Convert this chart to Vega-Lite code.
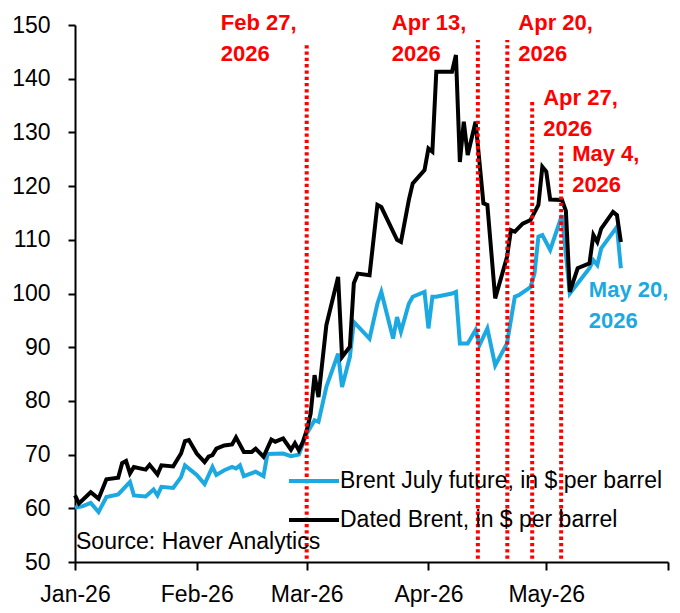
{
  "$schema": "https://vega.github.io/schema/vega-lite/v6.json",
  "width": 593,
  "height": 537,
  "autosize": {"type": "none"},
  "padding": {"left": 75, "top": 25, "right": 12, "bottom": 51},
  "config": {
    "view": {"stroke": null},
    "font": "Liberation Sans",
    "axis": {
      "labelFont": "Liberation Sans",
      "labelFontSize": 23,
      "labelColor": "#000000",
      "domainColor": "#000000",
      "domainWidth": 2,
      "tickColor": "#000000",
      "tickWidth": 2,
      "grid": false,
      "title": null
    }
  },
  "datasets": {
    "prices": [
      {"date": "2026/01/01", "series": "Brent July future, in $ per barrel", "price": 60.1},
      {"date": "2026/01/03", "series": "Brent July future, in $ per barrel", "price": 60.4},
      {"date": "2026/01/05", "series": "Brent July future, in $ per barrel", "price": 61.0},
      {"date": "2026/01/07", "series": "Brent July future, in $ per barrel", "price": 59.3},
      {"date": "2026/01/09", "series": "Brent July future, in $ per barrel", "price": 62.1},
      {"date": "2026/01/12", "series": "Brent July future, in $ per barrel", "price": 62.6},
      {"date": "2026/01/15", "series": "Brent July future, in $ per barrel", "price": 64.9},
      {"date": "2026/01/16", "series": "Brent July future, in $ per barrel", "price": 62.4},
      {"date": "2026/01/19", "series": "Brent July future, in $ per barrel", "price": 62.2},
      {"date": "2026/01/21", "series": "Brent July future, in $ per barrel", "price": 63.5},
      {"date": "2026/01/22", "series": "Brent July future, in $ per barrel", "price": 62.4},
      {"date": "2026/01/23", "series": "Brent July future, in $ per barrel", "price": 64.0},
      {"date": "2026/01/26", "series": "Brent July future, in $ per barrel", "price": 63.8},
      {"date": "2026/01/28", "series": "Brent July future, in $ per barrel", "price": 65.8},
      {"date": "2026/01/29", "series": "Brent July future, in $ per barrel", "price": 68.0},
      {"date": "2026/02/01", "series": "Brent July future, in $ per barrel", "price": 66.2},
      {"date": "2026/02/03", "series": "Brent July future, in $ per barrel", "price": 64.5},
      {"date": "2026/02/05", "series": "Brent July future, in $ per barrel", "price": 67.7},
      {"date": "2026/02/06", "series": "Brent July future, in $ per barrel", "price": 66.2},
      {"date": "2026/02/08", "series": "Brent July future, in $ per barrel", "price": 67.1},
      {"date": "2026/02/10", "series": "Brent July future, in $ per barrel", "price": 67.7},
      {"date": "2026/02/11", "series": "Brent July future, in $ per barrel", "price": 67.4},
      {"date": "2026/02/12", "series": "Brent July future, in $ per barrel", "price": 68.0},
      {"date": "2026/02/13", "series": "Brent July future, in $ per barrel", "price": 66.0},
      {"date": "2026/02/16", "series": "Brent July future, in $ per barrel", "price": 66.8},
      {"date": "2026/02/18", "series": "Brent July future, in $ per barrel", "price": 66.0},
      {"date": "2026/02/19", "series": "Brent July future, in $ per barrel", "price": 70.1},
      {"date": "2026/02/23", "series": "Brent July future, in $ per barrel", "price": 70.2},
      {"date": "2026/02/25", "series": "Brent July future, in $ per barrel", "price": 69.7},
      {"date": "2026/02/27", "series": "Brent July future, in $ per barrel", "price": 70.0},
      {"date": "2026/03/01", "series": "Brent July future, in $ per barrel", "price": 73.9},
      {"date": "2026/03/03", "series": "Brent July future, in $ per barrel", "price": 76.4},
      {"date": "2026/03/04", "series": "Brent July future, in $ per barrel", "price": 76.1},
      {"date": "2026/03/06", "series": "Brent July future, in $ per barrel", "price": 82.6},
      {"date": "2026/03/09", "series": "Brent July future, in $ per barrel", "price": 88.8},
      {"date": "2026/03/10", "series": "Brent July future, in $ per barrel", "price": 82.6},
      {"date": "2026/03/12", "series": "Brent July future, in $ per barrel", "price": 88.2},
      {"date": "2026/03/13", "series": "Brent July future, in $ per barrel", "price": 94.7},
      {"date": "2026/03/17", "series": "Brent July future, in $ per barrel", "price": 91.6},
      {"date": "2026/03/19", "series": "Brent July future, in $ per barrel", "price": 98.1},
      {"date": "2026/03/20", "series": "Brent July future, in $ per barrel", "price": 100.3},
      {"date": "2026/03/23", "series": "Brent July future, in $ per barrel", "price": 91.6},
      {"date": "2026/03/24", "series": "Brent July future, in $ per barrel", "price": 95.6},
      {"date": "2026/03/25", "series": "Brent July future, in $ per barrel", "price": 92.9},
      {"date": "2026/03/27", "series": "Brent July future, in $ per barrel", "price": 98.1},
      {"date": "2026/03/28", "series": "Brent July future, in $ per barrel", "price": 99.4},
      {"date": "2026/03/31", "series": "Brent July future, in $ per barrel", "price": 100.3},
      {"date": "2026/04/01", "series": "Brent July future, in $ per barrel", "price": 93.5},
      {"date": "2026/04/02", "series": "Brent July future, in $ per barrel", "price": 99.4},
      {"date": "2026/04/03", "series": "Brent July future, in $ per barrel", "price": 99.4},
      {"date": "2026/04/07", "series": "Brent July future, in $ per barrel", "price": 100.0},
      {"date": "2026/04/08", "series": "Brent July future, in $ per barrel", "price": 100.3},
      {"date": "2026/04/09", "series": "Brent July future, in $ per barrel", "price": 90.7},
      {"date": "2026/04/11", "series": "Brent July future, in $ per barrel", "price": 90.7},
      {"date": "2026/04/13", "series": "Brent July future, in $ per barrel", "price": 93.2},
      {"date": "2026/04/14", "series": "Brent July future, in $ per barrel", "price": 90.4},
      {"date": "2026/04/16", "series": "Brent July future, in $ per barrel", "price": 93.5},
      {"date": "2026/04/18", "series": "Brent July future, in $ per barrel", "price": 86.6},
      {"date": "2026/04/21", "series": "Brent July future, in $ per barrel", "price": 90.7},
      {"date": "2026/04/23", "series": "Brent July future, in $ per barrel", "price": 99.4},
      {"date": "2026/04/24", "series": "Brent July future, in $ per barrel", "price": 99.7},
      {"date": "2026/04/27", "series": "Brent July future, in $ per barrel", "price": 101.2},
      {"date": "2026/04/28", "series": "Brent July future, in $ per barrel", "price": 103.7},
      {"date": "2026/04/29", "series": "Brent July future, in $ per barrel", "price": 110.6},
      {"date": "2026/04/30", "series": "Brent July future, in $ per barrel", "price": 110.9},
      {"date": "2026/05/02", "series": "Brent July future, in $ per barrel", "price": 108.1},
      {"date": "2026/05/05", "series": "Brent July future, in $ per barrel", "price": 114.6},
      {"date": "2026/05/07", "series": "Brent July future, in $ per barrel", "price": 100.0},
      {"date": "2026/05/12", "series": "Brent July future, in $ per barrel", "price": 104.7},
      {"date": "2026/05/13", "series": "Brent July future, in $ per barrel", "price": 106.2},
      {"date": "2026/05/14", "series": "Brent July future, in $ per barrel", "price": 105.3},
      {"date": "2026/05/15", "series": "Brent July future, in $ per barrel", "price": 108.4},
      {"date": "2026/05/19", "series": "Brent July future, in $ per barrel", "price": 112.4},
      {"date": "2026/05/20", "series": "Brent July future, in $ per barrel", "price": 104.7},
      {"date": "2026/01/01", "series": "Dated Brent, in $ per barrel", "price": 62.4},
      {"date": "2026/01/02", "series": "Dated Brent, in $ per barrel", "price": 60.9},
      {"date": "2026/01/05", "series": "Dated Brent, in $ per barrel", "price": 63.0},
      {"date": "2026/01/07", "series": "Dated Brent, in $ per barrel", "price": 61.8},
      {"date": "2026/01/09", "series": "Dated Brent, in $ per barrel", "price": 65.4},
      {"date": "2026/01/12", "series": "Dated Brent, in $ per barrel", "price": 65.7},
      {"date": "2026/01/13", "series": "Dated Brent, in $ per barrel", "price": 68.4},
      {"date": "2026/01/14", "series": "Dated Brent, in $ per barrel", "price": 68.8},
      {"date": "2026/01/15", "series": "Dated Brent, in $ per barrel", "price": 66.5},
      {"date": "2026/01/16", "series": "Dated Brent, in $ per barrel", "price": 67.7},
      {"date": "2026/01/19", "series": "Dated Brent, in $ per barrel", "price": 67.2},
      {"date": "2026/01/20", "series": "Dated Brent, in $ per barrel", "price": 68.1},
      {"date": "2026/01/22", "series": "Dated Brent, in $ per barrel", "price": 66.3},
      {"date": "2026/01/23", "series": "Dated Brent, in $ per barrel", "price": 68.0},
      {"date": "2026/01/26", "series": "Dated Brent, in $ per barrel", "price": 67.8},
      {"date": "2026/01/28", "series": "Dated Brent, in $ per barrel", "price": 70.2},
      {"date": "2026/01/29", "series": "Dated Brent, in $ per barrel", "price": 72.5},
      {"date": "2026/01/30", "series": "Dated Brent, in $ per barrel", "price": 72.7},
      {"date": "2026/02/01", "series": "Dated Brent, in $ per barrel", "price": 70.2},
      {"date": "2026/02/03", "series": "Dated Brent, in $ per barrel", "price": 68.6},
      {"date": "2026/02/04", "series": "Dated Brent, in $ per barrel", "price": 69.6},
      {"date": "2026/02/05", "series": "Dated Brent, in $ per barrel", "price": 69.9},
      {"date": "2026/02/06", "series": "Dated Brent, in $ per barrel", "price": 71.1},
      {"date": "2026/02/08", "series": "Dated Brent, in $ per barrel", "price": 71.7},
      {"date": "2026/02/10", "series": "Dated Brent, in $ per barrel", "price": 71.9},
      {"date": "2026/02/11", "series": "Dated Brent, in $ per barrel", "price": 73.2},
      {"date": "2026/02/13", "series": "Dated Brent, in $ per barrel", "price": 70.5},
      {"date": "2026/02/15", "series": "Dated Brent, in $ per barrel", "price": 70.5},
      {"date": "2026/02/16", "series": "Dated Brent, in $ per barrel", "price": 71.1},
      {"date": "2026/02/18", "series": "Dated Brent, in $ per barrel", "price": 69.6},
      {"date": "2026/02/20", "series": "Dated Brent, in $ per barrel", "price": 72.8},
      {"date": "2026/02/21", "series": "Dated Brent, in $ per barrel", "price": 72.4},
      {"date": "2026/02/23", "series": "Dated Brent, in $ per barrel", "price": 73.0},
      {"date": "2026/02/25", "series": "Dated Brent, in $ per barrel", "price": 70.9},
      {"date": "2026/02/26", "series": "Dated Brent, in $ per barrel", "price": 72.1},
      {"date": "2026/02/27", "series": "Dated Brent, in $ per barrel", "price": 70.8},
      {"date": "2026/02/28", "series": "Dated Brent, in $ per barrel", "price": 72.3},
      {"date": "2026/03/01", "series": "Dated Brent, in $ per barrel", "price": 74.5},
      {"date": "2026/03/02", "series": "Dated Brent, in $ per barrel", "price": 77.6},
      {"date": "2026/03/03", "series": "Dated Brent, in $ per barrel", "price": 84.8},
      {"date": "2026/03/04", "series": "Dated Brent, in $ per barrel", "price": 80.7},
      {"date": "2026/03/06", "series": "Dated Brent, in $ per barrel", "price": 94.1},
      {"date": "2026/03/09", "series": "Dated Brent, in $ per barrel", "price": 103.1},
      {"date": "2026/03/10", "series": "Dated Brent, in $ per barrel", "price": 88.2},
      {"date": "2026/03/12", "series": "Dated Brent, in $ per barrel", "price": 90.1},
      {"date": "2026/03/13", "series": "Dated Brent, in $ per barrel", "price": 101.9},
      {"date": "2026/03/14", "series": "Dated Brent, in $ per barrel", "price": 103.7},
      {"date": "2026/03/17", "series": "Dated Brent, in $ per barrel", "price": 103.4},
      {"date": "2026/03/19", "series": "Dated Brent, in $ per barrel", "price": 116.5},
      {"date": "2026/03/20", "series": "Dated Brent, in $ per barrel", "price": 116.1},
      {"date": "2026/03/24", "series": "Dated Brent, in $ per barrel", "price": 110.0},
      {"date": "2026/03/25", "series": "Dated Brent, in $ per barrel", "price": 109.6},
      {"date": "2026/03/27", "series": "Dated Brent, in $ per barrel", "price": 117.4},
      {"date": "2026/03/28", "series": "Dated Brent, in $ per barrel", "price": 120.5},
      {"date": "2026/03/31", "series": "Dated Brent, in $ per barrel", "price": 123.0},
      {"date": "2026/04/01", "series": "Dated Brent, in $ per barrel", "price": 127.0},
      {"date": "2026/04/02", "series": "Dated Brent, in $ per barrel", "price": 126.4},
      {"date": "2026/04/03", "series": "Dated Brent, in $ per barrel", "price": 141.3},
      {"date": "2026/04/07", "series": "Dated Brent, in $ per barrel", "price": 141.3},
      {"date": "2026/04/08", "series": "Dated Brent, in $ per barrel", "price": 144.4},
      {"date": "2026/04/09", "series": "Dated Brent, in $ per barrel", "price": 124.5},
      {"date": "2026/04/10", "series": "Dated Brent, in $ per barrel", "price": 132.0},
      {"date": "2026/04/11", "series": "Dated Brent, in $ per barrel", "price": 125.8},
      {"date": "2026/04/13", "series": "Dated Brent, in $ per barrel", "price": 132.0},
      {"date": "2026/04/15", "series": "Dated Brent, in $ per barrel", "price": 116.8},
      {"date": "2026/04/16", "series": "Dated Brent, in $ per barrel", "price": 116.5},
      {"date": "2026/04/18", "series": "Dated Brent, in $ per barrel", "price": 99.1},
      {"date": "2026/04/21", "series": "Dated Brent, in $ per barrel", "price": 106.8},
      {"date": "2026/04/22", "series": "Dated Brent, in $ per barrel", "price": 111.8},
      {"date": "2026/04/23", "series": "Dated Brent, in $ per barrel", "price": 111.5},
      {"date": "2026/04/25", "series": "Dated Brent, in $ per barrel", "price": 113.0},
      {"date": "2026/04/27", "series": "Dated Brent, in $ per barrel", "price": 113.7},
      {"date": "2026/04/29", "series": "Dated Brent, in $ per barrel", "price": 116.5},
      {"date": "2026/04/30", "series": "Dated Brent, in $ per barrel", "price": 123.6},
      {"date": "2026/05/01", "series": "Dated Brent, in $ per barrel", "price": 122.7},
      {"date": "2026/05/02", "series": "Dated Brent, in $ per barrel", "price": 117.5},
      {"date": "2026/05/05", "series": "Dated Brent, in $ per barrel", "price": 117.4},
      {"date": "2026/05/06", "series": "Dated Brent, in $ per barrel", "price": 115.4},
      {"date": "2026/05/07", "series": "Dated Brent, in $ per barrel", "price": 100.3},
      {"date": "2026/05/09", "series": "Dated Brent, in $ per barrel", "price": 104.7},
      {"date": "2026/05/12", "series": "Dated Brent, in $ per barrel", "price": 105.6},
      {"date": "2026/05/13", "series": "Dated Brent, in $ per barrel", "price": 110.9},
      {"date": "2026/05/14", "series": "Dated Brent, in $ per barrel", "price": 109.6},
      {"date": "2026/05/15", "series": "Dated Brent, in $ per barrel", "price": 112.1},
      {"date": "2026/05/18", "series": "Dated Brent, in $ per barrel", "price": 115.2},
      {"date": "2026/05/19", "series": "Dated Brent, in $ per barrel", "price": 114.6},
      {"date": "2026/05/20", "series": "Dated Brent, in $ per barrel", "price": 109.6}
    ],
    "events": [
      {"date": "2026-03-01T00:00", "label": "Feb 27,\n2026", "top": 146.8, "bottom": 50.6, "labelTop": 152.2},
      {"date": "2026-04-13T14:00", "label": "Apr 13,\n2026", "top": 147.2, "bottom": 50.6, "labelTop": 152.2},
      {"date": "2026-04-21T02:00", "label": "Apr 20,\n2026", "top": 147.2, "bottom": 50.6, "labelTop": 152.2},
      {"date": "2026-04-27T10:00", "label": "Apr 27,\n2026", "top": 136.0, "bottom": 50.6, "labelTop": 138.3},
      {"date": "2026-05-04T19:00", "label": "May 4,\n2026", "top": 127.5, "bottom": 50.6, "labelTop": 127.8}
    ]
  },
  "layer": [
    {
      "data": {"name": "prices"},
      "mark": {"type": "line", "strokeWidth": 4},
      "encoding": {
        "x": {
          "field": "date",
          "type": "temporal",
          "scale": {"domain": [{"year": 2026, "month": 1, "date": 1}, {"year": 2026, "month": 6, "date": 1}]},
          "axis": {
            "format": "%b-%y",
            "tickCount": {"interval": "month", "step": 1},
            "labelExpr": "month(datum.value) == 5 ? '' : datum.label",
            "tickSize": 8,
            "labelPadding": 13,
            "labelFlush": false,
            "labelOverlap": false
          }
        },
        "y": {
          "field": "price",
          "type": "quantitative",
          "scale": {"domain": [50, 150]},
          "axis": {"values": [50, 60, 70, 80, 90, 100, 110, 120, 130, 140, 150], "tickSize": 7, "labelPadding": 18}
        },
        "color": {
          "field": "series",
          "type": "nominal",
          "scale": {"domain": ["Brent July future, in $ per barrel", "Dated Brent, in $ per barrel"], "range": ["#1CA9E2", "#000000"]},
          "legend": {
            "title": null,
            "orient": "none",
            "legendX": 212,
            "legendY": 429,
            "symbolType": "stroke",
            "symbolStrokeWidth": 4,
            "symbolSize": 2500,
            "labelFont": "Liberation Sans",
            "labelFontSize": 23,
            "labelColor": "#000000",
            "labelOffset": -1,
            "labelLimit": 0,
            "rowPadding": 0
          }
        }
      }
    },
    {
      "data": {"name": "events"},
      "mark": {"type": "rule", "color": "#FF0000", "strokeWidth": 4, "strokeDash": [3.3, 3]},
      "encoding": {
        "x": {"field": "date", "type": "temporal"},
        "y": {"field": "bottom", "type": "quantitative"},
        "y2": {"field": "top"}
      }
    },
    {
      "data": {"name": "events"},
      "transform": [{"filter": "datum.date < datetime(2026, 3, 15)"}],
      "mark": {"type": "text", "color": "#FF0000", "fontWeight": "bold", "fontSize": 22, "align": "left", "baseline": "top", "lineHeight": 31, "lineBreak": "\n", "dx": -86},
      "encoding": {
        "x": {"field": "date", "type": "temporal"},
        "y": {"field": "labelTop", "type": "quantitative"},
        "text": {"field": "label", "type": "nominal"}
      }
    },
    {
      "data": {"name": "events"},
      "transform": [{"filter": "datum.date >= datetime(2026, 3, 15)"}],
      "mark": {"type": "text", "color": "#FF0000", "fontWeight": "bold", "fontSize": 22, "align": "left", "baseline": "top", "lineHeight": 31, "lineBreak": "\n", "dx": 11},
      "encoding": {
        "x": {"field": "date", "type": "temporal"},
        "y": {"field": "labelTop", "type": "quantitative"},
        "text": {"field": "label", "type": "nominal"}
      }
    },
    {
      "data": {"name": "prices"},
      "transform": [{"filter": "datum.series === 'Brent July future, in $ per barrel' && month(datum.date) === 4 && date(datum.date) === 20"}],
      "mark": {"type": "text", "text": "May 20,\n2026", "lineBreak": "\n", "color": "#1CA9E2", "fontWeight": "bold", "fontSize": 22, "align": "left", "baseline": "top", "lineHeight": 31, "dx": -32, "dy": 12},
      "encoding": {
        "x": {"field": "date", "type": "temporal"},
        "y": {"field": "price", "type": "quantitative"}
      }
    },
    {
      "data": {"values": [{"note": "Source: Haver Analytics", "date": "2026-01-01T00:00", "level": 53.8}]},
      "mark": {"type": "text", "fontSize": 23, "align": "left", "baseline": "middle", "color": "#000000", "dx": 1},
      "encoding": {
        "x": {"field": "date", "type": "temporal"},
        "y": {"field": "level", "type": "quantitative"},
        "text": {"field": "note", "type": "nominal"}
      }
    }
  ]
}
